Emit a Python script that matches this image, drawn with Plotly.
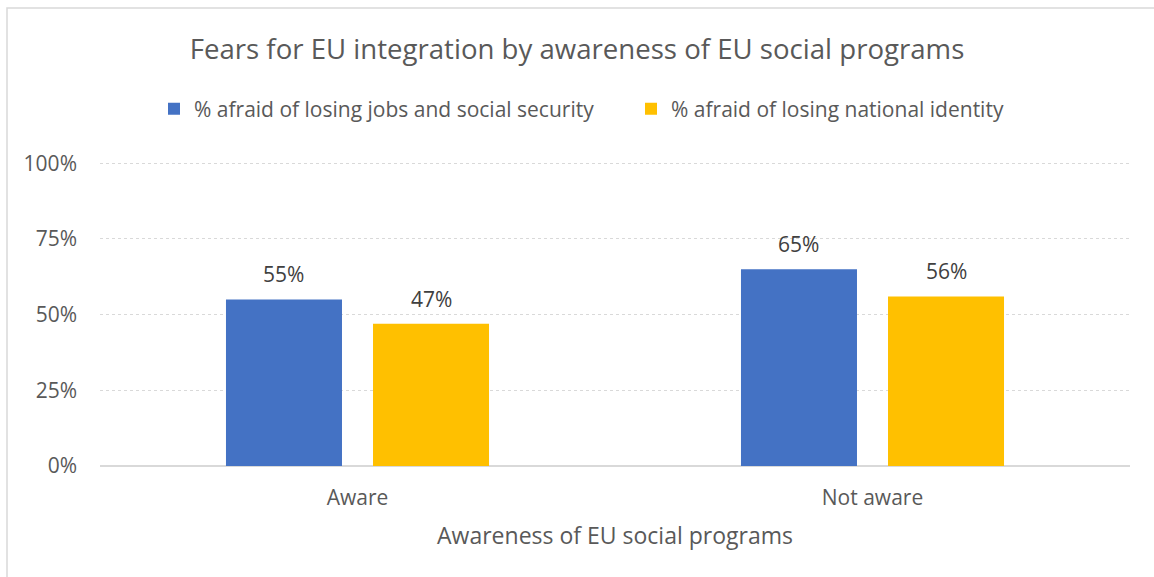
import plotly.graph_objects as go

categories = ["Aware", "Not aware"]
jobs_security = [55, 65]
national_identity = [47, 56]
series_names = ["% afraid of losing jobs and social security",
                "% afraid of losing national identity"]
tick_values = [0, 25, 50, 75, 100]
tick_labels = ["0%", "25%", "50%", "75%", "100%"]

FONT = "Open Sans, Lato, sans-serif"
GREY = "#595959"
LABEL = "#404040"

W, H = 1154, 577
L, R, T, B = 100, 24, 162, 111
pw, ph = W - L - R, H - T - B
BARGAP = 0.429

fig = go.Figure()
series = [(series_names[0], jobs_security, "#4472C4"),
          (series_names[1], national_identity, "#FFC000")]
for name, vals, color in series:
    fig.add_trace(go.Bar(
        x=categories, y=vals, name=name, marker=dict(color=color, line_width=0),
    ))

# value labels above each bar, offset to the bar's slot within its group
slot_px = (1 - BARGAP) * (pw / len(categories)) / len(series)
for i, (name, vals, color) in enumerate(series):
    shift = (i - (len(series) - 1) / 2) * slot_px
    for cat, v in zip(categories, vals):
        fig.add_annotation(x=cat, y=v, xref="x", yref="y", text=f"{v}%",
                           showarrow=False, yanchor="bottom", xshift=shift,
                           yshift=9, font=dict(size=21, color=LABEL, family=FONT))

# outer chart border
fig.add_shape(type="rect", xref="paper", yref="paper",
              x0=(7 - L) / pw, x1=(W + 5 - L) / pw,
              y0=-(H + 5 - T - ph) / ph, y1=1 + (T - 8) / ph,
              line=dict(color="#D9D9D9", width=1.5), fillcolor="rgba(0,0,0,0)")

fig.update_layout(
    width=W, height=H, margin=dict(l=L, r=R, t=T, b=B),
    paper_bgcolor="white", plot_bgcolor="white",
    font=dict(family=FONT, color=GREY),
    title=dict(text="Fears for EU integration by awareness of EU social programs",
               x=0.5, xanchor="center", y=1 - 49 / H, yanchor="middle",
               font=dict(size=27.6, color=GREY, family=FONT)),
    barmode="group", bargap=BARGAP, bargroupgap=0.211,
    showlegend=True,
    legend=dict(orientation="h", x=(154 - L) / pw, xanchor="left",
                y=1 + (T - 109) / ph, yanchor="middle",
                font=dict(size=21, color=GREY, family=FONT),
                itemwidth=30, entrywidth=432, traceorder="normal"),
    xaxis=dict(showline=False, ticks="", tickfont=dict(size=21, color=GREY),
               ticklabelstandoff=17,
               title=dict(text="Awareness of EU social programs",
                          font=dict(size=23, color=GREY), standoff=17)),
    yaxis=dict(range=[0, 100.4], tickvals=tick_values, ticktext=tick_labels,
               tickfont=dict(size=21, color=GREY), ticks="", ticklabelstandoff=22,
               showgrid=True, gridcolor="#D9D9D9", griddash="dot", gridwidth=1,
               zeroline=True, zerolinecolor="#D9D9D9", zerolinewidth=1.5),
)

fig.write_html("out.html")
